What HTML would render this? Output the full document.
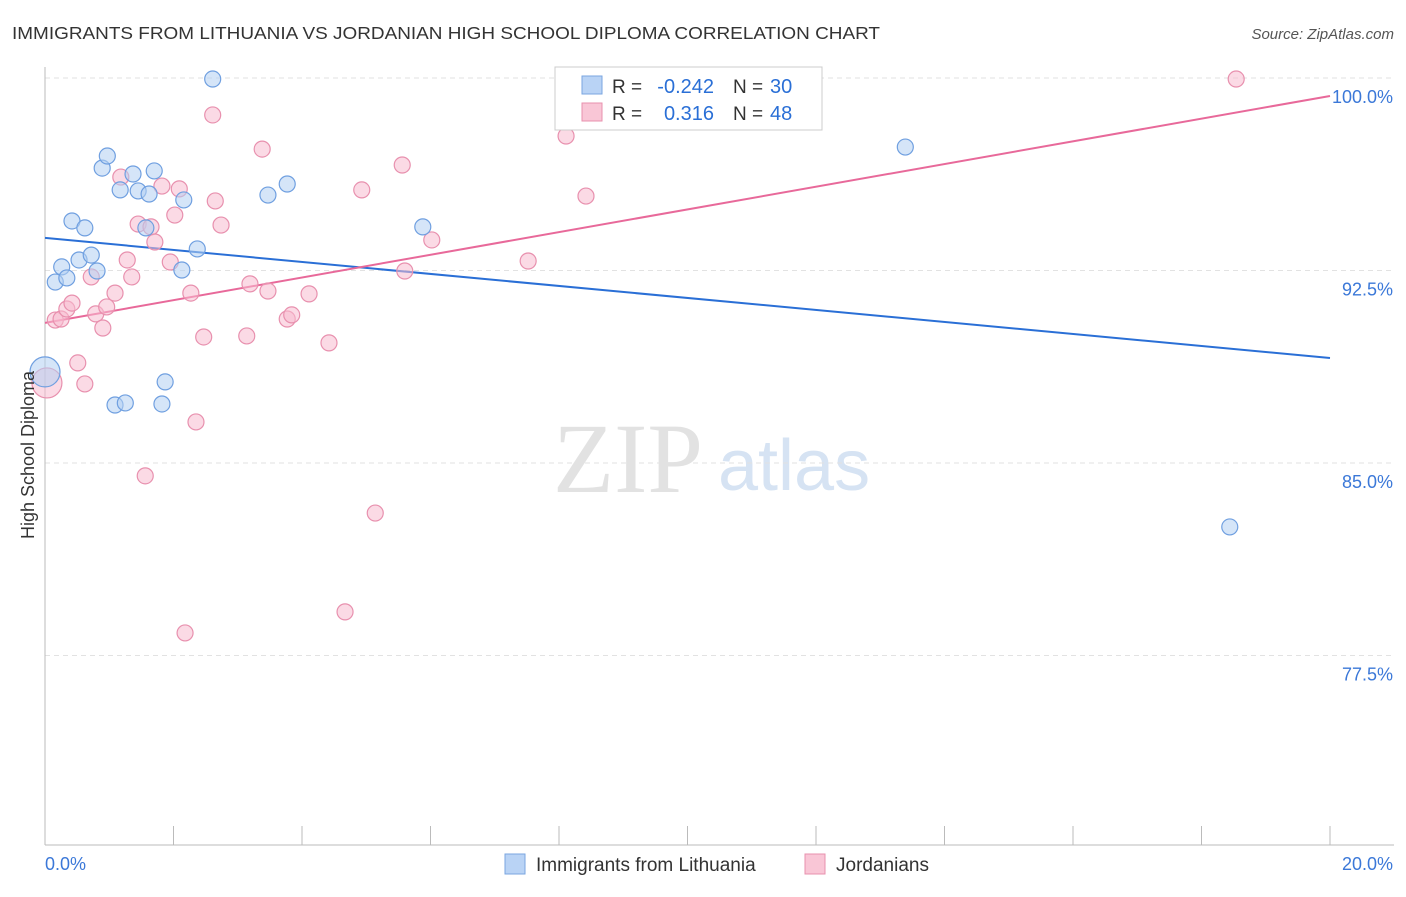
<!DOCTYPE html>
<html><head><meta charset="utf-8"><style>
body{margin:0;background:#fff;font-family:"Liberation Sans",sans-serif}
svg{font-family:"Liberation Sans",sans-serif}
.serif{font-family:"Liberation Serif",serif}
</style></head><body>
<svg id="chart" width="1406" height="892" viewBox="0 0 1406 892">
<text x="12" y="39" font-size="17.5" fill="#333" textLength="868" lengthAdjust="spacingAndGlyphs">IMMIGRANTS FROM LITHUANIA VS JORDANIAN HIGH SCHOOL DIPLOMA CORRELATION CHART</text>
<text x="1394" y="39" font-size="15" fill="#555" font-style="italic" text-anchor="end">Source: ZipAtlas.com</text>
<g><text x="553" y="492" font-size="100" class="serif" fill="#e2e2e2">ZIP</text><text x="718" y="490" font-size="72" fill="#d6e3f3">atlas</text></g>
<g id="grid"></g><g id="axes"></g><g id="lines"></g><g id="pts"></g>
<text transform="translate(34,455) rotate(-90)" font-size="18" fill="#333" text-anchor="middle">High School Diploma</text>
<g>
<rect x="555" y="67" width="267" height="63" fill="#fff" stroke="#ccc"/>
<rect x="582" y="76" width="20" height="18" fill="#b9d3f5" stroke="#7aa6e0"/>
<rect x="582" y="103" width="20" height="18" fill="#f9c6d6" stroke="#e890ae"/>
<text x="612" y="93" font-size="19" fill="#333">R =</text>
<text x="714" y="93" font-size="20" fill="#2a6fd6" text-anchor="end">-0.242</text>
<text x="733" y="93" font-size="19" fill="#333">N =</text>
<text x="770" y="93" font-size="20" fill="#2a6fd6">30</text>
<text x="612" y="120" font-size="19" fill="#333">R =</text>
<text x="714" y="120" font-size="20" fill="#2a6fd6" text-anchor="end">0.316</text>
<text x="733" y="120" font-size="19" fill="#333">N =</text>
<text x="770" y="120" font-size="20" fill="#2a6fd6">48</text>
</g>
<g>
<rect x="505" y="854" width="20" height="20" fill="#b9d3f5" stroke="#7aa6e0"/>
<text x="536" y="871" font-size="19" fill="#333">Immigrants from Lithuania</text>
<rect x="805" y="854" width="20" height="20" fill="#f9c6d6" stroke="#e890ae"/>
<text x="836" y="871" font-size="19" fill="#333">Jordanians</text>
</g>
</svg>
<script>
const blueX=[0,0.16,0.26,0.34,0.42,0.53,0.62,0.72,0.81,0.89,0.97,1.09,1.17,1.25,1.37,1.45,1.57,1.62,1.70,1.82,1.87,2.13,2.16,2.37,2.61,3.47,3.77,5.88,13.39,18.44];
const blueY=[88.55,92.05,92.64,92.21,94.43,92.91,94.16,93.10,92.48,96.49,96.96,87.26,95.64,87.34,96.26,95.60,94.16,95.48,96.38,87.30,88.16,92.52,95.25,93.34,99.96,95.44,95.87,94.20,97.31,82.51];
const pinkX=[0.03,0.16,0.25,0.34,0.42,0.51,0.62,0.72,0.79,0.90,0.96,1.09,1.18,1.28,1.35,1.45,1.56,1.65,1.71,1.82,1.95,2.02,2.09,2.18,2.27,2.35,2.47,2.61,2.65,2.74,3.14,3.19,3.38,3.47,3.77,3.84,4.11,4.42,4.67,4.93,5.14,5.56,5.60,6.02,7.52,8.11,8.42,18.54];
const pinkY=[88.12,90.57,90.61,91.00,91.23,88.90,88.08,92.25,90.81,90.26,91.08,91.62,96.14,92.91,92.25,94.31,84.50,94.20,93.61,95.79,92.83,94.66,95.68,78.38,91.62,86.60,89.91,98.56,95.21,94.27,89.95,91.98,97.23,91.70,90.61,90.77,91.59,89.68,79.20,95.64,83.05,96.61,92.48,93.69,92.87,97.74,95.40,99.96];
const blueTrend=[93.77,89.09];
const pinkTrend=[90.46,99.30];
const yTicks=[100,92.5,85,77.5];
const yTickLabels=["100.0%","92.5%","85.0%","77.5%"];
const xTicks=[0,2,4,6,8,10,12,14,16,18,20];
const NS="http://www.w3.org/2000/svg";
const X=v=>45+v*64.25, Y=v=>78+(100-v)*25.667;
function mk(t,a,p){const e=document.createElementNS(NS,t);for(const k in a)e.setAttribute(k,a[k]);document.getElementById(p).appendChild(e);return e;}
yTicks.forEach((t,i)=>{
 const l=mk('line',{x1:45,x2:1394,y1:Y(t),y2:Y(t),stroke:'#e2e2e2','stroke-dasharray':'5,4'},'grid');
 
 
 const tx=mk('text',{x:1393,y:Y(t)+25,'font-size':18,fill:'#3b78d8','text-anchor':'end'},'axes');
 tx.textContent=yTickLabels[i];
 
 
});
let a=mk('line',{x1:45,x2:45,y1:67,y2:845,stroke:'#bbb'},'axes');


a=mk('line',{x1:45,x2:1394,y1:845,y2:845,stroke:'#bbb'},'axes');


xTicks.forEach(t=>{const l=mk('line',{x1:X(t),x2:X(t),y1:826,y2:845,stroke:'#bbb'},'axes');
 
 });
let t0=mk('text',{x:45,y:870,'font-size':18,fill:'#3b78d8'},'axes');t0.textContent='0.0%';


t0=mk('text',{x:1393,y:870,'font-size':18,fill:'#3b78d8','text-anchor':'end'},'axes');t0.textContent='20.0%';


function pts(xs,ys,fill,stroke,name){xs.forEach((x,i)=>{
 const c=mk('circle',{cx:X(x),cy:Y(ys[i]),r:(i==0&&x<0.05)?15:8,fill:fill,'fill-opacity':0.55,stroke:stroke,'stroke-width':1.2},'pts');
 
 });}
pts(pinkX,pinkY,'#f7bcd0','#e890ae','jordanians-point');
pts(blueX,blueY,'#b2cff3','#6f9fe0','lithuania-point');
let ln=mk('line',{x1:X(0),y1:Y(blueTrend[0]),x2:X(20),y2:Y(blueTrend[1]),stroke:'#2a6fd6','stroke-width':2},'lines');


ln=mk('line',{x1:X(0),y1:Y(pinkTrend[0]),x2:X(20),y2:Y(pinkTrend[1]),stroke:'#e8699a','stroke-width':2},'lines');


</script>
</body></html>
